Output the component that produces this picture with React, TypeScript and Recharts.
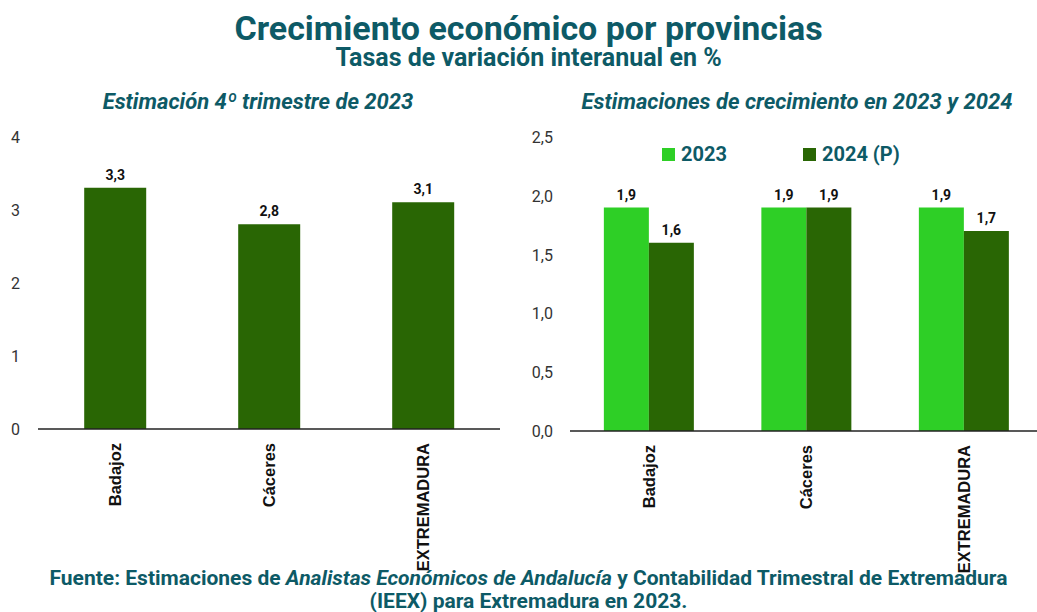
import React from 'react';
import { BarChart, Bar, XAxis, YAxis, LabelList } from 'recharts';

const categories = ['Badajoz', 'Cáceres', 'EXTREMADURA'];
const q4Values2023 = [3.3, 2.8, 3.1];
const growth2023 = [1.9, 1.9, 1.9];
const growth2024 = [1.6, 1.9, 1.7];
const leftTicks = [0, 1, 2, 3, 4];
const rightTicks = [0, 0.5, 1, 1.5, 2, 2.5];
const seriesNames = ['2023', '2024 (P)'];

const leftData = categories.map((c, i) => ({ name: c, v: q4Values2023[i] }));
const rightData = categories.map((c, i) => ({ name: c, a: growth2023[i], b: growth2024[i] }));

const TEAL = '#0d5a66';
const DARK = '#296604';
const LIGHT = '#2ecf26';
const FONT = 'Roboto, sans-serif';

const comma = (v: number, d: number) => v.toFixed(d).replace('.', ',');

const CatTick = (props: any) => {
  const { x, y, payload } = props;
  return (
    <g transform={`translate(${x},${y})`}>
      <text
        transform="rotate(-90)"
        x={-6}
        dy={6}
        textAnchor="end"
        fontFamily="'Liberation Sans', Arial, sans-serif"
        fontWeight="bold"
        fontSize={16.5}
        fill="#111"
      >
        {payload.value}
      </text>
    </g>
  );
};

const makeYTick = (xPos: number, digits: number) => (props: any) => {
  const { y, payload } = props;
  return (
    <text x={xPos} y={y} dy={6} textAnchor="end" fontFamily={FONT} fontSize={16} fill="#333">
      {comma(payload.value, digits)}
    </text>
  );
};

const labelStyle = { fontFamily: FONT, fontWeight: 'bold', fontSize: 14, fill: '#111' } as any;

export default function App() {
  return (
    <div style={{ position: 'fixed', left: 0, top: 0, width: 1037, height: 612, overflow: 'hidden', background: '#fff' }}>
      <div style={{ position: 'absolute', left: 0, top: 12, width: 1057, textAlign: 'center', fontFamily: FONT, fontWeight: 'bold', fontSize: 34, color: TEAL, lineHeight: '33px' }}>
        Crecimiento económico por provincias
      </div>
      <div style={{ position: 'absolute', left: 0, top: 47, width: 1057, textAlign: 'center', fontFamily: FONT, fontWeight: 'bold', fontSize: 25, color: TEAL, lineHeight: '22px' }}>
        Tasas de variación interanual en %
      </div>
      <div style={{ position: 'absolute', left: 0, top: 88, width: 516, textAlign: 'center', fontFamily: FONT, fontWeight: 'bold', fontStyle: 'italic', fontSize: 22, color: TEAL, lineHeight: '28px' }}>
        Estimación 4º trimestre de 2023
      </div>
      <div style={{ position: 'absolute', left: 540, top: 88, width: 514, textAlign: 'center', fontFamily: FONT, fontWeight: 'bold', fontStyle: 'italic', fontSize: 22, color: TEAL, lineHeight: '28px' }}>
        Estimaciones de crecimiento en 2023 y 2024
      </div>

      <div style={{ position: 'absolute', left: 0, top: 0 }}>
        <BarChart
          width={510}
          height={612}
          data={leftData}
          margin={{ top: 136.5, right: 10, bottom: 0, left: 0 }}
          barCategoryGap="30%"
        >
          <XAxis
            dataKey="name"
            height={183}
            tick={<CatTick />}
            tickLine={false}
            axisLine={{ stroke: '#222', strokeWidth: 1.3 }}
            interval={0}
          />
          <YAxis
            width={38}
            domain={[0, 4]}
            ticks={leftTicks}
            axisLine={false}
            tickLine={false}
            tick={makeYTick(20, 0)}
          />
          <Bar dataKey="v" fill={DARK} isAnimationActive={false}>
            <LabelList dataKey="v" position="top" offset={8} formatter={(v: any) => comma(Number(v), 1)} style={labelStyle} />
          </Bar>
        </BarChart>
      </div>

      <div style={{ position: 'absolute', left: 510, top: 0 }}>
        <BarChart
          width={540}
          height={612}
          data={rightData}
          margin={{ top: 137, right: 7.5, bottom: 0, left: 0 }}
          barCategoryGap="21.5%"
          barGap={0}
        >
          <XAxis
            dataKey="name"
            height={181}
            tick={<CatTick />}
            tickLine={false}
            axisLine={{ stroke: '#222', strokeWidth: 1.3 }}
            interval={0}
          />
          <YAxis
            width={60}
            domain={[0, 2.5]}
            ticks={rightTicks}
            axisLine={false}
            tickLine={false}
            tick={makeYTick(43, 1)}
          />
          <Bar dataKey="a" name={seriesNames[0]} fill={LIGHT} isAnimationActive={false}>
            <LabelList dataKey="a" position="top" offset={8} formatter={(v: any) => comma(Number(v), 1)} style={labelStyle} />
          </Bar>
          <Bar dataKey="b" name={seriesNames[1]} fill={DARK} isAnimationActive={false}>
            <LabelList dataKey="b" position="top" offset={8} formatter={(v: any) => comma(Number(v), 1)} style={labelStyle} />
          </Bar>
        </BarChart>
      </div>

      {[LIGHT, DARK].map((col, i) => (
        <div
          key={i}
          style={{
            position: 'absolute',
            left: i === 0 ? 662 : 803,
            top: 141,
            display: 'flex',
            alignItems: 'center',
            fontFamily: FONT,
            fontWeight: 'bold',
            fontSize: 20,
            color: TEAL,
            whiteSpace: 'nowrap',
            lineHeight: '26px',
          }}
        >
          <span style={{ display: 'inline-block', width: 13, height: 13, background: col, marginRight: 6 }} />
          {seriesNames[i]}
        </div>
      ))}

      <div style={{ position: 'absolute', left: 0, top: 567, width: 1057, textAlign: 'center', fontFamily: FONT, fontWeight: 'bold', fontSize: 21, color: TEAL, lineHeight: '23px' }}>
        Fuente: Estimaciones de <i>Analistas Económicos de Andalucía</i> y Contabilidad Trimestral de Extremadura
        <br />
        (IEEX) para Extremadura en 2023.
      </div>
    </div>
  );
}
